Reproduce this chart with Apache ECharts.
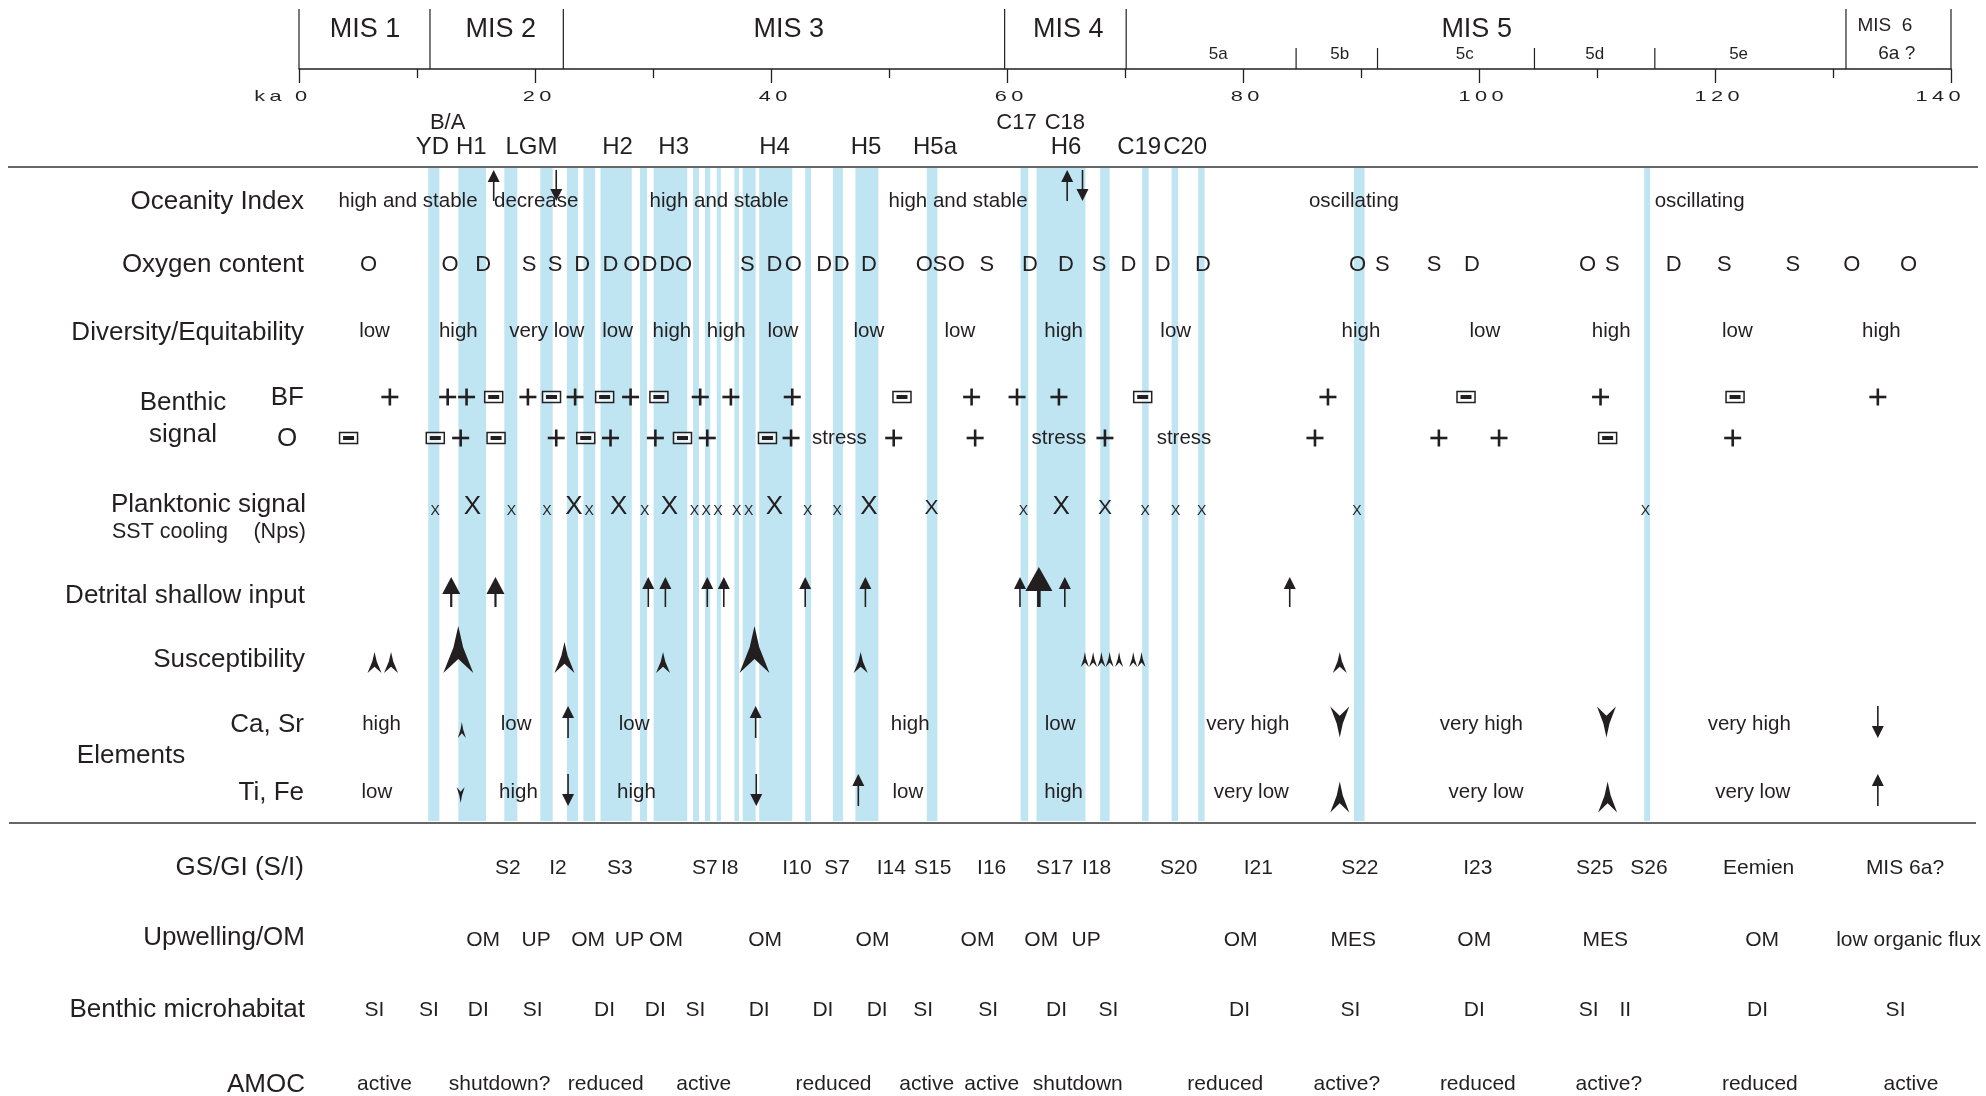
<!DOCTYPE html>
<html>
<head>
<meta charset="utf-8">
<title>Paleoenvironmental signals, 0–140 ka</title>
<script src="https://cdn.jsdelivr.net/npm/echarts@6/dist/echarts.min.js"></script>
<style>
  html, body { margin: 0; padding: 0; background: #ffffff; }
  #chart { width: 1986px; height: 1096px; }
</style>
</head>
<body>
<div id="chart"></div>
<script>
// ---------------- Chronology (ages in ka) ----------------
const ageTicks = [0, 20, 40, 60, 80, 100, 120, 140];
const misBoundaries = [0, 11.1, 22.4, 59.8, 70.1, 131.1, 140];
const misStages = [['MIS 1', 5.6], ['MIS 2', 17.1], ['MIS 3', 41.5], ['MIS 4', 65.2], ['MIS 5', 99.8]];
const mis5SubBoundaries = [84.5, 91.4, 104.7, 114.9];
const mis5Substages = [['5a', 77.9], ['5b', 88.2], ['5c', 98.8], ['5d', 109.8], ['5e', 122.0]];
const mis6Stage = [['MIS  6', 134.4]];
const mis6Substage = [['6a ?', 135.4]];
const eventsUpper = [['B/A', 12.6], ['C17', 60.8], ['C18', 64.9]];
const eventsLower = [['YD', 11.3], ['H1', 14.6], ['LGM', 19.7], ['H2', 27.0], ['H3', 31.75], ['H4', 40.3],
  ['H5', 48.05], ['H5a', 53.9], ['H6', 65.0], ['C19', 71.2], ['C20', 75.1]];

// Cold intervals (start, end ka)
const coldIntervals = [[10.95, 11.9], [13.5, 15.85], [17.4, 18.5], [20.45, 21.5], [22.7, 23.65], [24.1, 25.1],
  [25.55, 28.2], [28.9, 29.5], [30.05, 32.9], [33.4, 33.9], [34.4, 34.85], [35.4, 35.75], [36.9, 37.3],
  [37.6, 38.7], [39.0, 41.8], [42.9, 43.4], [45.25, 46.1], [47.15, 49.1], [53.2, 54.1], [61.15, 61.8],
  [62.5, 66.65], [67.9, 68.7], [71.45, 72.0], [73.95, 74.5], [76.2, 76.75], [89.4, 90.3], [114.0, 114.5]];

// ---------------- Proxy rows ----------------
const oceanityText = [[9.24, 'high and stable'], [20.1, 'decrease'], [35.6, 'high and stable'],
  [55.85, 'high and stable'], [89.4, 'oscillating'], [118.7, 'oscillating']];
const oceanityTrend = [[16.5, 'arrow', 1], [21.8, 'arrow', -1], [65.1, 'arrow', 1], [66.4, 'arrow', -1]];

const oxygenContent = [[5.9, 'O'], [12.8, 'O'], [15.6, 'D'], [19.5, 'S'], [21.7, 'S'], [24.0, 'D'], [26.4, 'D'],
  [28.2, 'O'], [29.7, 'D'], [31.2, 'D'], [32.6, 'O'], [38.0, 'S'], [40.3, 'D'], [41.9, 'O'], [44.5, 'D'],
  [46.0, 'D'], [48.3, 'D'], [53.0, 'O'], [54.3, 'S'], [55.7, 'O'], [58.3, 'S'], [61.95, 'D'], [65.0, 'D'],
  [67.8, 'S'], [70.3, 'D'], [73.2, 'D'], [76.6, 'D'], [89.7, 'O'], [91.8, 'S'], [96.2, 'S'], [99.4, 'D'],
  [109.2, 'O'], [111.3, 'S'], [116.5, 'D'], [120.8, 'S'], [126.6, 'S'], [131.6, 'O'], [136.4, 'O']];

const diversity = [[6.4, 'low'], [13.5, 'high'], [21.0, 'very low'], [27.0, 'low'], [31.6, 'high'], [36.2, 'high'],
  [41.0, 'low'], [48.3, 'low'], [56.0, 'low'], [64.8, 'high'], [74.3, 'low'], [90.0, 'high'], [100.5, 'low'],
  [111.2, 'high'], [121.9, 'low'], [134.1, 'high']];

// '+' positive signal, '⊟' negative signal
const benthicBF = [[7.7, '+'], [12.6, '+'], [14.2, '+'], [16.5, '⊟'], [19.4, '+'], [21.4, '⊟'], [23.4, '+'],
  [25.9, '⊟'], [28.1, '+'], [30.5, '⊟'], [34.0, '+'], [36.6, '+'], [41.8, '+'], [51.1, '⊟'], [57.0, '+'],
  [60.85, '+'], [64.4, '+'], [71.5, '⊟'], [87.2, '+'], [98.9, '⊟'], [110.3, '+'], [121.7, '⊟'], [133.8, '+']];
const benthicO = [[4.2, '⊟'], [11.55, '⊟'], [13.7, '+'], [16.7, '⊟'], [21.8, '+'], [24.3, '⊟'], [26.4, '+'],
  [30.2, '+'], [32.5, '⊟'], [34.6, '+'], [39.7, '⊟'], [41.7, '+'], [45.8, 'stress'], [50.4, '+'], [57.3, '+'],
  [64.4, 'stress'], [68.3, '+'], [75.0, 'stress'], [86.1, '+'], [96.6, '+'], [101.7, '+'], [110.9, '⊟'],
  [121.5, '+']];

// SST cooling intensity (1 weak, 2 moderate, 3 strong)
const planktonicCooling = [[11.55, 1], [14.7, 3], [18.0, 1], [21.0, 1], [23.3, 3], [24.6, 1], [27.1, 3], [29.3, 1],
  [31.4, 3], [33.5, 1], [34.5, 1], [35.5, 1], [37.1, 1], [38.1, 1], [40.3, 3], [43.1, 1], [45.6, 1], [48.3, 3],
  [53.6, 2], [61.4, 1], [64.6, 3], [68.3, 2], [71.7, 1], [74.3, 1], [76.5, 1], [89.65, 1], [114.1, 1]];

// Detrital shallow input (1 weak, 2 moderate, 3 strong)
const detritalInput = [[12.9, 2], [16.65, 2], [29.6, 1], [31.05, 1], [34.6, 1], [36.0, 1], [42.9, 1], [48.0, 1],
  [61.1, 1], [62.7, 3], [64.9, 1], [83.96, 1]];

// Magnetic susceptibility peaks (1 minor ... 4 major)
const susceptibility = [[6.4, 2], [7.8, 2], [13.5, 4], [22.5, 3], [30.85, 2], [38.6, 4], [47.6, 2],
  [66.6, 1], [67.3, 1], [68.0, 1], [68.7, 1], [69.5, 1], [70.7, 1], [71.4, 1], [88.2, 2]];

const caSrText = [[7.0, 'high'], [18.4, 'low'], [28.4, 'low'], [51.8, 'high'], [64.5, 'low'], [80.4, 'very high'],
  [100.2, 'very high'], [122.9, 'very high']];
const caSrTrend = [[13.8, 'head', 1], [22.8, 'arrow', 1], [38.7, 'arrow', 1], [88.2, 'head', -2],
  [110.8, 'head', -2], [133.8, 'arrow', -1]];
const tiFeText = [[6.6, 'low'], [18.6, 'high'], [28.6, 'high'], [51.6, 'low'], [64.8, 'high'], [80.7, 'very low'],
  [100.6, 'very low'], [123.2, 'very low']];
const tiFeTrend = [[13.7, 'head', -1], [22.8, 'arrow', -1], [38.75, 'arrow', -1], [47.4, 'arrow', 1],
  [88.2, 'head', 2], [110.9, 'head', 2], [133.8, 'arrow', 1]];

const stadialsInterstadials = [[17.7, 'S2'], [21.95, 'I2'], [27.2, 'S3'], [34.4, 'S7'], [36.5, 'I8'], [42.2, 'I10'],
  [45.6, 'S7'], [50.2, 'I14'], [53.7, 'S15'], [58.7, 'I16'], [64.05, 'S17'], [67.6, 'I18'], [74.55, 'S20'],
  [81.3, 'I21'], [89.9, 'S22'], [99.9, 'I23'], [109.8, 'S25'], [114.4, 'S26'], [123.7, 'Eemien'],
  [136.1, 'MIS 6a?']];
const upwellingOM = [[15.6, 'OM'], [20.1, 'UP'], [24.5, 'OM'], [28.0, 'UP'], [31.1, 'OM'], [39.5, 'OM'],
  [48.6, 'OM'], [57.5, 'OM'], [62.9, 'OM'], [66.7, 'UP'], [79.8, 'OM'], [89.35, 'MES'], [99.6, 'OM'],
  [110.7, 'MES'], [124.0, 'OM'], [136.4, 'low organic flux']];
const microhabitat = [[6.4, 'SI'], [11.0, 'SI'], [15.2, 'DI'], [19.8, 'SI'], [25.9, 'DI'], [30.2, 'DI'],
  [33.6, 'SI'], [39.0, 'DI'], [44.4, 'DI'], [49.0, 'DI'], [52.9, 'SI'], [58.4, 'SI'], [64.2, 'DI'], [68.6, 'SI'],
  [79.7, 'DI'], [89.1, 'SI'], [99.6, 'DI'], [109.3, 'SI'], [112.4, 'II'], [123.6, 'DI'], [135.3, 'SI']];
const amocState = [[7.25, 'active'], [17.0, 'shutdown?'], [26.0, 'reduced'], [34.3, 'active'], [45.3, 'reduced'],
  [53.2, 'active'], [58.7, 'active'], [66.0, 'shutdown'], [78.5, 'reduced'], [88.8, 'active?'], [99.9, 'reduced'],
  [111.0, 'active?'], [123.8, 'reduced'], [136.6, 'active']];

// ---------------- Layout & style ----------------
const INK = '#231f20';
const BAND = '#bfe5f3';
const FONT = '"Liberation Sans", Arial, Helvetica, sans-serif';
const ROW = {
  tickLabel: 97, mis: 30, substage: 54, mis6: 26, eventUpper: 123, eventLower: 147,
  bandTop: 168, bandBottom: 821,
  oceanity: 201, oceanityArrow: 186, oxygen: 265, diversity: 331.5, bf: 397, benthicO: 438,
  planktonBase: 516, detritalTail: 607, suscBase: 673, caSr: 722, tiFe: 790,
  caSrText: 724, tiFeText: 792,
  gsgi: 868, upwelling: 940, micro: 1010, amoc: 1084
};
const ARROW_FORM = {
  1: { headW: 12, headL: 12, shaft: 1.6 },
  2: { headW: 18, headL: 17, shaft: 2.2 },
  3: { headW: 27, headL: 24, shaft: 3.6 }
};
const SUSC_FORM = { 1: { h: 15, w: 8 }, 2: { h: 21, w: 14 }, 3: { h: 31, w: 20 }, 4: { h: 47, w: 30 } };
const PLANKTON_SIZE = { 1: 14, 2: 21, 3: 26 };
const spaced = s => String(s).split('').join('\u2009');

function label(x, y, text, size, align) {
  const a = align || 'center';
  return {
    type: 'text', x: x, y: y,
    style: { text: text, fill: INK, font: size + 'px ' + FONT,
      textAlign: a, align: a, textVerticalAlign: 'middle', verticalAlign: 'middle' }
  };
}
function shaftArrow(x, tipY, tailY, form) {
  const dir = tailY > tipY ? 1 : -1;
  const baseY = tipY + dir * form.headL;
  return {
    type: 'group',
    children: [
      { type: 'line', shape: { x1: x, y1: tipY + dir * form.headL * 0.7, x2: x, y2: tailY },
        style: { stroke: INK, lineWidth: form.shaft } },
      { type: 'polygon', shape: { points: [[x, tipY], [x + form.headW / 2, baseY], [x - form.headW / 2, baseY]] },
        style: { fill: INK } }
    ]
  };
}
function concaveHead(x, baseY, h, w, up) {
  const s = up ? -1 : 1;
  return {
    type: 'polygon',
    shape: { points: [[x, baseY + s * h], [x + w * 0.16, baseY + s * h * 0.55], [x + w / 2, baseY],
      [x, baseY + s * h * 0.3], [x - w / 2, baseY], [x - w * 0.16, baseY + s * h * 0.55]] },
    style: { fill: INK }
  };
}
function plusMark(x, y) {
  return { type: 'group', children: [
    { type: 'rect', shape: { x: x - 8.5, y: y - 1.3, width: 17, height: 2.6 }, style: { fill: INK } },
    { type: 'rect', shape: { x: x - 1.3, y: y - 8.5, width: 2.6, height: 17 }, style: { fill: INK } }
  ] };
}
function boxMinus(x, y) {
  return { type: 'group', children: [
    { type: 'rect', shape: { x: x - 9, y: y - 5.5, width: 18, height: 11 },
      style: { fill: 'rgba(255,255,255,0.6)', stroke: INK, lineWidth: 1.5 } },
    { type: 'rect', shape: { x: x - 5.5, y: y - 2, width: 11, height: 4 }, style: { fill: INK } }
  ] };
}

// Generic custom layer: each item is positioned on the age axis.
function layer(items, z, draw) {
  return {
    type: 'custom', coordinateSystem: 'cartesian2d', clip: false, silent: true, z: z,
    data: items.map(d => [d[0], 0]),
    renderItem(params, api) {
      const x = api.coord([api.value(0), 0])[0];
      const Y = v => api.coord([0, v])[1];
      return draw(x, items[params.dataIndex], Y);
    }
  };
}
const textLayer = (items, row, size) => layer(items, 5, (x, d, Y) => label(x, Y(ROW[row]), d[1], size));
function trendLayer(items, row, headOffset) {
  return layer(items, 5, (x, d, Y) => {
    const c = Y(ROW[row]);
    const up = d[2] > 0;
    const mag = Math.abs(d[2]);
    if (d[1] === 'arrow') {
      return up ? shaftArrow(x, c - 16, c + 16, ARROW_FORM[1]) : shaftArrow(x, c + 16, c - 16, ARROW_FORM[1]);
    }
    const f = mag === 1 ? { h: 16, w: 8 } : { h: 31, w: 19 };
    const cy = c + headOffset[mag];
    return concaveHead(x, up ? cy + f.h / 2 : cy - f.h / 2, f.h, f.w, up);
  });
}
function symbolLayer(items, row) {
  return layer(items, 5, (x, d, Y) => {
    const y = Y(ROW[row]);
    if (d[1] === '+') return plusMark(x, y);
    if (d[1] === '⊟') return boxMinus(x, y);
    return label(x, y, d[1], 20.5);
  });
}

const series = [
  // cold intervals
  {
    type: 'custom', coordinateSystem: 'cartesian2d', clip: false, silent: true, z: 1,
    data: coldIntervals,
    renderItem(params, api) {
      const x0 = api.coord([api.value(0), 0])[0];
      const x1 = api.coord([api.value(1), 0])[0];
      const y0 = api.coord([0, ROW.bandTop])[1];
      const y1 = api.coord([0, ROW.bandBottom])[1];
      return { type: 'rect', shape: { x: x0, y: y0, width: x1 - x0, height: y1 - y0 }, style: { fill: BAND } };
    }
  },
  // age tick labels (wide, tracked lettering); the last one is pulled inside the frame
  layer(ageTicks.map(v => [v]), 4, (x, d, Y) => ({
    type: 'text', x: d[0] === ageTicks[ageTicks.length - 1] ? x - 13 : x + 2, y: Y(ROW.tickLabel), scaleX: 1.5,
    style: { text: spaced(d[0]), fill: INK, font: '14.5px ' + FONT, textAlign: 'center', align: 'center',
      textVerticalAlign: 'middle', verticalAlign: 'middle' }
  })),
  // stage boundaries
  layer(misBoundaries.map(v => [v]), 3, (x, d, Y) => ({ type: 'line',
    shape: { x1: x, y1: Y(9), x2: x, y2: Y(69) }, style: { stroke: INK, lineWidth: 1.2 } })),
  layer(mis5SubBoundaries.map(v => [v]), 3, (x, d, Y) => ({ type: 'line',
    shape: { x1: x, y1: Y(48), x2: x, y2: Y(69) }, style: { stroke: INK, lineWidth: 1.2 } })),
  layer(misStages.map(d => [d[1], d[0]]), 4, (x, d, Y) => label(x, Y(ROW.mis), d[1], 27)),
  layer(mis5Substages.map(d => [d[1], d[0]]), 4, (x, d, Y) => label(x, Y(ROW.substage), d[1], 17)),
  layer(mis6Stage.map(d => [d[1], d[0]]), 4, (x, d, Y) => label(x, Y(ROW.mis6), d[1], 19)),
  layer(mis6Substage.map(d => [d[1], d[0]]), 4, (x, d, Y) => label(x, Y(ROW.substage), d[1], 19)),
  layer(eventsUpper.map(d => [d[1], d[0]]), 4, (x, d, Y) => label(x, Y(ROW.eventUpper), d[1], 22)),
  layer(eventsLower.map(d => [d[1], d[0]]), 4, (x, d, Y) => label(x, Y(ROW.eventLower), d[1], 24)),

  textLayer(oceanityText, 'oceanity', 20.5),
  layer(oceanityTrend, 5, (x, d, Y) => {
    const c = Y(ROW.oceanityArrow);
    return d[2] > 0 ? shaftArrow(x, c - 16, c + 15, ARROW_FORM[1]) : shaftArrow(x, c + 15, c - 16, ARROW_FORM[1]);
  }),
  textLayer(oxygenContent, 'oxygen', 22),
  textLayer(diversity, 'diversity', 20.5),
  symbolLayer(benthicBF, 'bf'),
  symbolLayer(benthicO, 'benthicO'),
  layer(planktonicCooling, 5, (x, d, Y) => {
    const size = PLANKTON_SIZE[d[1]];
    return label(x, Y(ROW.planktonBase) - 0.358 * size, 'X', size);
  }),
  layer(detritalInput, 5, (x, d, Y) => {
    const tail = Y(ROW.detritalTail);
    const tip = d[1] === 3 ? tail - 40 : tail - 30;
    return shaftArrow(x, tip, tail, ARROW_FORM[d[1]]);
  }),
  layer(susceptibility, 5, (x, d, Y) => {
    const f = SUSC_FORM[d[1]];
    const base = Y(ROW.suscBase) - (d[1] === 1 ? 6 : 0);
    return concaveHead(x, base, f.h, f.w, true);
  }),
  textLayer(caSrText, 'caSrText', 20.5),
  trendLayer(caSrTrend, 'caSr', { 1: 8, 2: 0 }),
  textLayer(tiFeText, 'tiFeText', 20.5),
  trendLayer(tiFeTrend, 'tiFe', { 1: 5, 2: 7 }),
  textLayer(stadialsInterstadials, 'gsgi', 21),
  textLayer(upwellingOM, 'upwelling', 21),
  textLayer(microhabitat, 'micro', 21),
  textLayer(amocState, 'amoc', 21)
];

// Row titles
const TITLE = 26;
const titles = [
  ['Oceanity Index', 304, 201.5, 'right', TITLE],
  ['Oxygen content', 304, 264.5, 'right', TITLE],
  ['Diversity/Equitability', 304, 332.5, 'right', TITLE],
  ['Benthic', 183, 402.5, 'center', TITLE],
  ['signal', 183, 434.5, 'center', TITLE],
  ['BF', 304, 397.5, 'right', TITLE],
  ['O', 287, 438.5, 'center', TITLE],
  ['Planktonic signal', 306, 504.5, 'right', TITLE],
  ['SST cooling', 112, 532, 'left', 21.5],
  ['(Nps)', 306, 532, 'right', 21.5],
  ['Detrital shallow input', 305, 595.5, 'right', TITLE],
  ['Susceptibility', 305, 659.5, 'right', TITLE],
  ['Ca, Sr', 304, 724.5, 'right', TITLE],
  ['Elements', 131, 755.5, 'center', TITLE],
  ['Ti, Fe', 304, 792.5, 'right', TITLE],
  ['GS/GI (S/I)', 304, 867.5, 'right', TITLE],
  ['Upwelling/OM', 305, 937.5, 'right', TITLE],
  ['Benthic microhabitat', 305, 1009.5, 'right', TITLE],
  ['AMOC', 305, 1084.5, 'right', TITLE]
];
const graphic = titles.map(t => ({
  type: 'text', x: t[1], y: t[2], silent: true,
  style: { text: t[0], fill: INK, font: t[4] + 'px ' + FONT, textAlign: t[3], align: t[3],
    textVerticalAlign: 'middle', verticalAlign: 'middle' }
}));
graphic.push(
  { type: 'text', x: 268, y: 97, scaleX: 1.5, silent: true,
    style: { text: spaced('ka'), fill: INK, font: '14.5px ' + FONT, textAlign: 'center', align: 'center',
      textVerticalAlign: 'middle', verticalAlign: 'middle' } },
  { type: 'line', silent: true, shape: { x1: 8, y1: 167, x2: 1978, y2: 167 }, style: { stroke: '#333', lineWidth: 1.6 } },
  { type: 'line', silent: true, shape: { x1: 9, y1: 823, x2: 1976, y2: 823 }, style: { stroke: '#333', lineWidth: 1.6 } }
);

const chart = echarts.init(document.getElementById('chart'));
chart.setOption({
  animation: false,
  backgroundColor: '#ffffff',
  grid: { left: 299, right: 35, top: 69, height: 1000, containLabel: false },
  xAxis: {
    type: 'value', position: 'top',
    min: ageTicks[0], max: ageTicks[ageTicks.length - 1], interval: ageTicks[1] - ageTicks[0],
    axisLine: { show: true, onZero: false, lineStyle: { color: INK, width: 1.6 } },
    axisTick: { show: true, inside: true, length: 14, lineStyle: { color: INK, width: 1.3 } },
    minorTick: { show: true, splitNumber: 2, length: 9, lineStyle: { color: INK, width: 1.3 } },
    axisLabel: { show: false },
    splitLine: { show: false }, minorSplitLine: { show: false }
  },
  yAxis: { type: 'value', min: 69, max: 1069, inverse: true, show: false },
  graphic: graphic,
  series: series
});
</script>
</body>
</html>
